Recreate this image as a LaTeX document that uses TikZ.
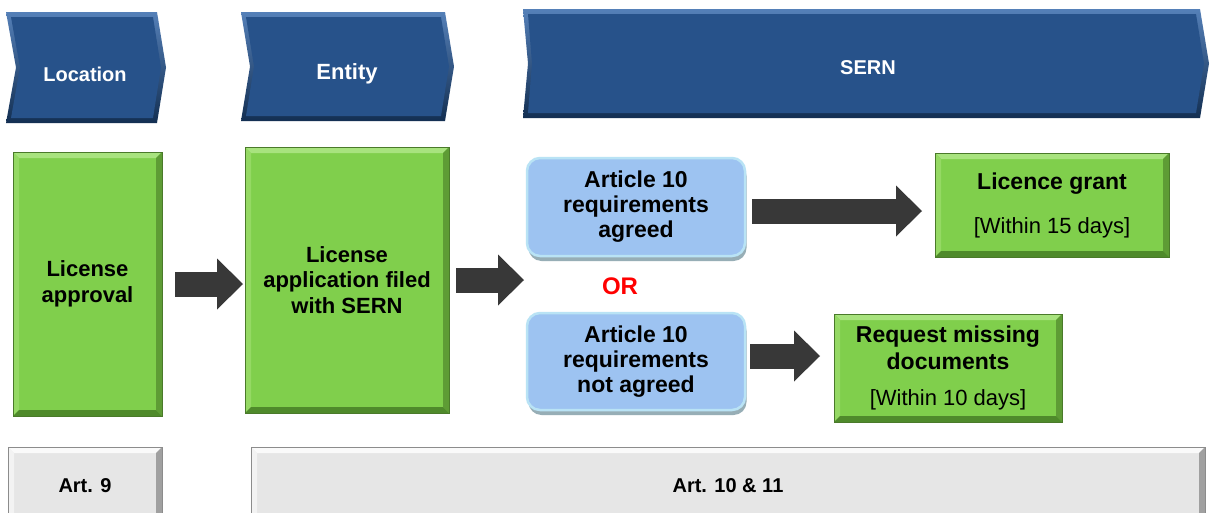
\documentclass[tikz,border=0pt]{standalone}
\usepackage{fontspec}
\setmainfont{Liberation Sans}
\usetikzlibrary{calc,arrows.meta,shadows}

\definecolor{chevbase}{HTML}{27528A}
\definecolor{chevlight}{HTML}{5580B8}
\definecolor{chevdark}{HTML}{132F52}
\definecolor{grbase}{HTML}{80CF4C}
\definecolor{grtop}{HTML}{A8E37E}
\definecolor{grleft}{HTML}{95D964}
\definecolor{grright}{HTML}{5E9C35}
\definecolor{grbot}{HTML}{4F8A2B}
\definecolor{grline}{HTML}{4A7A2A}
\definecolor{cBlue}{HTML}{9DC3F1}
\definecolor{cBlueEdge}{HTML}{B9E3F5}
\definecolor{cBlueShadow}{HTML}{97AEB6}
\definecolor{gybase}{HTML}{E6E6E6}
\definecolor{gytop}{HTML}{FAFAFA}
\definecolor{gyleft}{HTML}{F3F3F3}
\definecolor{gyright}{HTML}{A0A0A0}
\definecolor{gybot}{HTML}{C4C4C4}
\definecolor{gyline}{HTML}{8C8C8C}
\definecolor{arrowgray}{HTML}{383838}
\definecolor{orred}{HTML}{FF0000}

\newcommand{\chevronshape}[6]{% x1 x2 top bot notch tip
  \pgfmathsetmacro{\cmid}{(#3+#4)/2}
  \shade[top color=chevlight, bottom color=chevdark]
    (#1,#3) -- (#2,#3) -- ({#2+#6},\cmid) -- (#2,#4) -- (#1,#4) -- ({#1+#5},\cmid) -- cycle;
  \fill[chevbase]
    ({#1+5},{#3+5}) -- ({#2-4},{#3+5}) -- ({#2+#6-5},\cmid) -- ({#2-4},{#4-5})
    -- ({#1+5},{#4-5}) -- ({#1+#5+4},\cmid) -- cycle;
}

\newcommand{\bevelbox}[7]{% name, top, left, right, bottom, width, outline
  \fill[#2] (#1.north west) -- (#1.north east) -- ([shift={(-#6pt,-#6pt)}]#1.north east)
     -- ([shift={(#6pt,-#6pt)}]#1.north west) -- cycle;
  \fill[#3] (#1.north west) -- ([shift={(#6pt,-#6pt)}]#1.north west)
     -- ([shift={(#6pt,#6pt)}]#1.south west) -- (#1.south west) -- cycle;
  \fill[#4] (#1.north east) -- ([shift={(-#6pt,-#6pt)}]#1.north east)
     -- ([shift={(-#6pt,#6pt)}]#1.south east) -- (#1.south east) -- cycle;
  \fill[#5] (#1.south west) -- ([shift={(#6pt,#6pt)}]#1.south west)
     -- ([shift={(-#6pt,#6pt)}]#1.south east) -- (#1.south east) -- cycle;
  \draw[#7, line width=0.7pt] (#1.north west) rectangle (#1.south east);
}

\tikzset{
  chevtext/.style={text=white, font=\bfseries\fontsize{20}{24}\selectfont},
  greenbox/.style={fill=grbase, inner sep=0pt, outer sep=0pt, align=center,
    font=\bfseries\fontsize{22}{25.5}\selectfont},
  bluebox/.style={rounded corners=13pt, fill=cBlue, draw=cBlueEdge, line width=2.5pt,
    drop shadow={shadow xshift=1.5pt, shadow yshift=-5pt, fill=cBlueShadow, opacity=1},
    align=center, inner sep=0pt, outer sep=0pt,
    font=\bfseries\fontsize{23}{25}\selectfont},
  greybox/.style={fill=gybase, inner sep=0pt, outer sep=0pt, align=center,
    font=\bfseries\fontsize{20}{24}\selectfont},
  ortext/.style={text=orred, font=\bfseries\fontsize{24}{28}\selectfont},
  bigarrow/.style={draw=arrowgray, line width=25pt,
    -{Triangle[length=26pt, width=51pt, line width=0pt]}},
}

\begin{document}
\begin{tikzpicture}[x=1pt,y=-1pt]
\useasboundingbox (0,0) rectangle (1211,512);
\clip (0,0) rectangle (1211,512);
\fill[white] (0,0) rectangle (1211,512);

% header chevrons
\chevronshape{6}{157}{12}{123}{10}{9}
\chevronshape{241}{445}{12}{121}{9}{9}
\chevronshape{523}{1200}{9}{118}{5}{9}
\node[chevtext] (loc) at (85,74) {Location};
\node[chevtext, font=\bfseries\fontsize{22}{26}\selectfont] (ent) at (347,74) {Entity};
\node[chevtext] (sern) at (868,68) {SERN};

% green process boxes
\node[greenbox, minimum width=149pt, minimum height=264pt] (appr) at (87.5,284) {License\\approval};
\bevelbox{appr}{grtop}{grleft}{grright}{grbot}{6}{grline}
\node[greenbox, minimum width=204pt, minimum height=266pt] (appl) at (347,280) {License\\application filed\\with SERN};
\bevelbox{appl}{grtop}{grleft}{grright}{grbot}{6}{grline}

% blue decision boxes
\node[bluebox, minimum width=218pt, minimum height=98pt] (agr) at (636,207) {Article 10\\requirements\\agreed};
\node[bluebox, minimum width=218pt, minimum height=97pt] (nagr) at (636,361.5) {Article 10\\requirements\\not agreed};
\node[ortext] (or) at (620,286) {OR};

% outcome boxes
\node[greenbox, minimum width=234pt, minimum height=104pt, font=\bfseries\fontsize{23}{26}\selectfont] (grant) at (1052,205)
  {Licence grant\\[18pt]{\mdseries\fontsize{22}{26}\selectfont [Within 15 days]}};
\bevelbox{grant}{grtop}{grleft}{grright}{grbot}{6}{grline}
\node[greenbox, minimum width=228pt, minimum height=108pt, font=\bfseries\fontsize{23}{26.5}\selectfont] (req) at (948,368)
  {Request missing\\documents\\[10pt]{\mdseries\fontsize{22}{26}\selectfont [Within 10 days]}};
\bevelbox{req}{grtop}{grleft}{grright}{grbot}{6}{grline}

% article boxes
\node[greybox, minimum width=154pt, minimum height=78pt] (art9) at (85,486) {Art. 9};
\bevelbox{art9}{gytop}{gyleft}{gyright}{gybot}{6}{gyline}
\node[greybox, minimum width=954pt, minimum height=78pt] (art10) at (728,486) {Art. 10 \& 11};
\bevelbox{art10}{gytop}{gyleft}{gyright}{gybot}{6}{gyline}

% block arrows
\coordinate (split) at (524,280);
\draw[bigarrow, shorten <=13pt, shorten >=2pt] (appr.east) -- (appr.east -| appl.west);
\draw[bigarrow, shorten <=7pt] (appl.east) -- (split);
\coordinate (a3s) at ([yshift=-4pt]agr.east);
\draw[bigarrow, shorten <=7pt, shorten >=13pt] (a3s) -- (a3s -| grant.west);
\coordinate (a4s) at ([yshift=5.5pt]nagr.east);
\draw[bigarrow, shorten <=5pt, shorten >=14pt] (a4s) -- (a4s -| req.west);
\end{tikzpicture}
\end{document}
